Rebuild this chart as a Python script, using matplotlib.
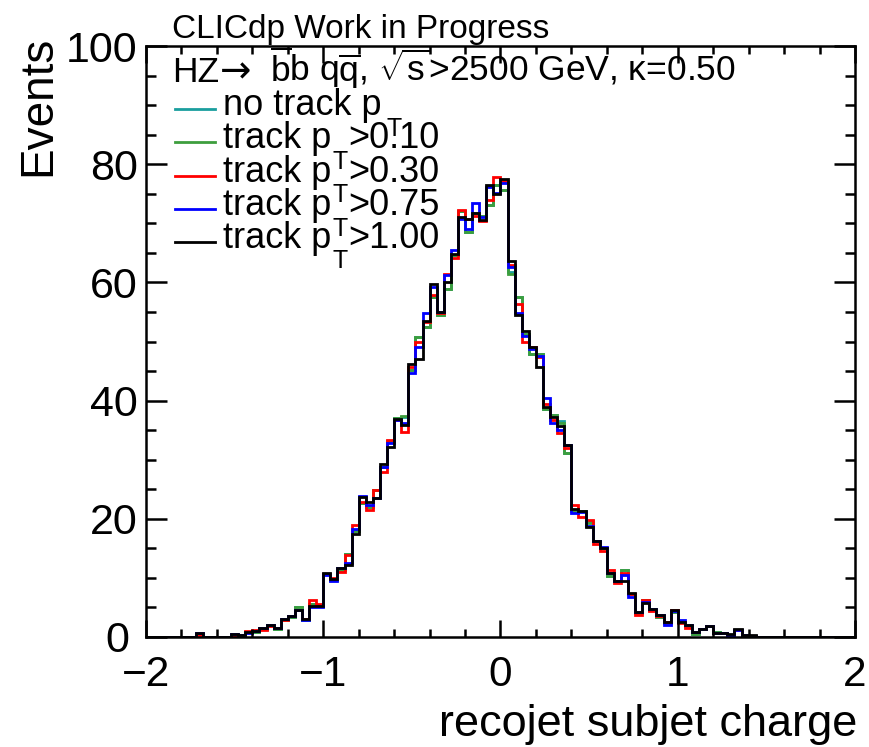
import numpy as np
import matplotlib
matplotlib.use("Agg")
import matplotlib.pyplot as plt
from matplotlib.lines import Line2D
from matplotlib.ticker import MultipleLocator
from matplotlib.transforms import ScaledTranslation

plt.rcParams['font.family'] = ['Liberation Sans', 'DejaVu Sans']
plt.rcParams['mathtext.fontset'] = 'custom'
plt.rcParams['mathtext.rm'] = 'Liberation Sans'
plt.rcParams['mathtext.it'] = 'Liberation Sans:italic'
plt.rcParams['mathtext.default'] = 'regular'

# ---------------- data ----------------
BIN_LO, BIN_HI, N_BINS = -2.0, 2.0, 100

# bins k = 0..99 (width 0.04); non-zero region k = 7..85
black = [0]*7 + [0.6, 0, 0, 0, 0,
         0.5, 0.4, 0.8, 1.0, 1.5, 2.0, 1.5, 3.1, 3.5, 4.5,
         3.0, 5.2, 5.3, 10.9, 9.8, 11.6, 12.2, 17.4, 23.7, 22.9,
         23.6, 29.2, 32.2, 36.9, 35.9, 46.2, 47.0, 53.4, 59.7, 55.0,
         60.1, 64.8, 71.0, 70.8, 71.8, 70.6, 76.5, 74.9, 77.5, 63.6,
         54.4, 51.8, 49.0, 45.7, 38.9, 37.3, 35.7, 32.5, 21.6, 21.4,
         18.6, 16.2, 15.0, 10.8, 9.5, 9.5, 7.4, 4.3, 5.8, 4.8,
         3.7, 2.5, 4.5, 2.5, 2.0, 0.8, 1.4, 1.8, 0.7, 0.6,
         0.5, 1.3, 0.4, 0.3] + [0]*14

blue = [0]*7 + [0.6, 0, 0, 0, 0,
        0.5, 0.3, 0.6, 1.0, 1.5, 2.1, 1.5, 3.0, 3.6, 4.5,
        2.8, 5.0, 5.1, 10.5, 9.4, 11.7, 12.5, 18.2, 23.8, 22.3,
        23.5, 28.8, 32.8, 36.7, 36.2, 44.6, 49.1, 54.8, 59.3, 55.0,
        61.2, 65.4, 70.8, 69.1, 73.5, 71.0, 76.2, 75.2, 76.8, 62.6,
        54.8, 51.0, 48.8, 47.5, 40.4, 36.2, 35.0, 32.5, 21.0, 21.2,
        18.8, 16.3, 15.3, 10.8, 9.5, 10.5, 6.7, 4.2, 6.0, 4.8,
        3.7, 2.1, 4.4, 2.8, 2.0, 0.8, 1.4, 1.8, 0.7, 0.7,
        0.2, 1.2, 0.3, 0.2] + [0]*14

red = [0]*7 + [0.4, 0, 0, 0, 0,
       0.2, 0.3, 1.0, 1.1, 1.2, 1.9, 1.5, 2.8, 3.5, 4.6,
       3.0, 6.2, 5.6, 10.7, 9.9, 11.0, 13.9, 18.9, 22.8, 21.5,
       24.9, 28.0, 33.4, 36.8, 34.7, 45.7, 49.9, 53.3, 57.9, 54.8,
       61.5, 64.2, 72.3, 70.8, 71.3, 70.4, 73.9, 77.9, 77.2, 63.0,
       56.4, 50.0, 49.0, 47.3, 39.5, 36.8, 34.5, 32.0, 22.4, 20.3,
       19.8, 15.8, 14.5, 11.3, 9.2, 10.8, 7.3, 3.7, 6.3, 4.4,
       3.6, 2.5, 4.5, 2.3, 1.5, 0.8, 1.3, 1.8, 0.6, 0.7,
       0.4, 1.2, 0.3, 0.2] + [0]*14

green = [0]*7 + [0.5, 0, 0, 0, 0,
         0.4, 0.4, 0.9, 0.9, 1.4, 2.0, 1.4, 2.9, 3.4, 5.0,
         2.8, 5.6, 5.3, 10.6, 9.6, 11.4, 14.1, 17.9, 22.7, 22.0,
         24.8, 28.7, 33.2, 37.1, 37.4, 45.2, 50.8, 52.4, 57.6, 54.5,
         58.9, 64.6, 72.0, 68.6, 71.7, 71.2, 73.1, 76.4, 75.6, 61.5,
         57.6, 51.2, 47.9, 47.9, 38.5, 37.5, 36.2, 31.1, 21.3, 21.3,
         19.3, 16.2, 15.0, 10.3, 9.4, 11.3, 7.2, 4.1, 6.2, 4.6,
         3.3, 2.4, 4.3, 2.6, 1.9, 0.5, 1.4, 1.8, 0.8, 0.6,
         0.4, 1.1, 0.3, 0.2] + [0]*14

cyan = [0]*7 + [0.5, 0, 0, 0, 0,
        0.4, 0.4, 0.9, 0.9, 1.4, 2.0, 1.4, 2.9, 3.4, 5.0,
        2.8, 5.6, 5.3, 10.6, 9.6, 11.4, 14.1, 17.9, 22.7, 22.0,
        24.8, 28.7, 33.2, 37.1, 37.2, 45.2, 50.8, 52.4, 57.6, 54.5,
        58.9, 64.6, 72.0, 68.6, 71.7, 71.2, 73.1, 76.4, 75.6, 61.8,
        57.6, 51.2, 47.9, 47.9, 38.5, 37.5, 36.5, 31.1, 21.5, 21.3,
        19.6, 16.2, 15.0, 10.3, 9.4, 11.3, 7.2, 4.1, 6.2, 4.6,
        3.3, 2.4, 4.3, 2.6, 1.9, 0.5, 1.4, 1.8, 0.8, 0.6,
        0.4, 1.1, 0.3, 0.2] + [0]*14

series_values = [cyan, green, red, blue, black]
series_colors = ['#1a9e9e', '#3d9e3d', '#ff0000', '#0000ff', '#000000']
legend_main = ['no track p', 'track p', 'track p', 'track p', 'track p']
legend_cut = ['', '>0.10', '>0.30', '>0.75', '>1.00']

x_ticks = [-2, -1, 0, 1, 2]
y_ticks = [0, 20, 40, 60, 80, 100]

# ---------------- figure ----------------
W, H = 870, 747
fig = plt.figure(figsize=(W/100, H/100), dpi=100)
def fx(px): return px / W
def fy(py): return 1 - py / H

ax = fig.add_axes([fx(146), fy(637), fx(855) - fx(146), fy(46) - fy(637)])
edges = np.linspace(BIN_LO, BIN_HI, N_BINS + 1)
for vals, col in zip(series_values, series_colors):
    ax.stairs(vals, edges, baseline=0, color=col, lw=2.0)

ax.set_xlim(BIN_LO, BIN_HI)
ax.set_ylim(0, 100)
ax.set_xticks(x_ticks)
ax.set_yticks(y_ticks)
ax.xaxis.set_minor_locator(MultipleLocator(0.2))
ax.yaxis.set_minor_locator(MultipleLocator(5))
for s in ax.spines.values():
    s.set_linewidth(1.8)
ax.tick_params(which='both', direction='in', top=True, right=True, width=1.8)
ax.xaxis.set_tick_params(which='major', length=12.5, pad=13, labelsize=30.5)
ax.xaxis.set_tick_params(which='minor', length=6)
ax.yaxis.set_tick_params(which='major', length=15, pad=6, labelsize=31)
ax.yaxis.set_tick_params(which='minor', length=7.5)

# ROOT-like shift of the y "0" label
fig.canvas.draw()
for lab in ax.get_yticklabels():
    if lab.get_text() in ('0',):
        lab.set_transform(lab.get_transform() +
                          ScaledTranslation(-0.08, 0, fig.dpi_scale_trans))

fig.text(fx(857), fy(736), 'recojet subjet charge', ha='right', va='baseline',
         fontsize=32.5)
fig.text(fx(38), fy(36), 'Events', rotation=90, ha='center', va='top',
         fontsize=33)

fig.text(fx(172), fy(38), 'CLICdp Work in Progress', ha='left', va='baseline',
         fontsize=24)
# header line, built from pieces
fig.text(fx(172), fy(82), 'HZ', ha='left', va='baseline', fontsize=25.5)
fig.text(fx(220), fy(82), '\u2192', ha='left', va='baseline', fontsize=27,
         family=['DejaVu Sans'])
fig.text(fx(270), fy(82),
         r'$\overline{\mathrm{b}}$b q$\overline{\mathrm{q}}$, '
         r'$\sqrt{\mathrm{s}}$>2500 GeV, $\kappa$=0.50',
         ha='left', va='baseline', fontsize=25.5)

# legend (drawn by hand, ROOT-like)
baselines = [115, 148, 181.5, 215, 247.5]
for i, (col, main, cut) in enumerate(zip(series_colors, legend_main, legend_cut)):
    b = baselines[i]
    fig.add_artist(Line2D([fx(175), fx(215)], [fy(b - 6), fy(b - 6)],
                          color=col, lw=2.0))
    fig.text(fx(223), fy(b), main, ha='left', va='baseline', fontsize=26)
    tx = 387 if i == 0 else 333
    fig.text(fx(tx), fy(b + 2), 'T', ha='left', va='top', fontsize=18)
    if cut:
        fig.text(fx(348), fy(b), cut, ha='left', va='baseline', fontsize=26)

fig.savefig('out.png', dpi=100, facecolor='white')
